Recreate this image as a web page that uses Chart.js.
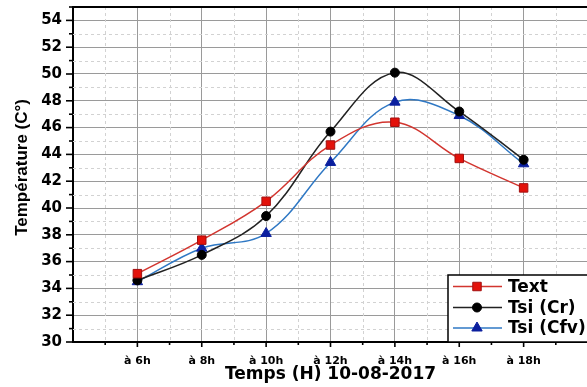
<!DOCTYPE html>
<html>
<head>
<meta charset="utf-8">
<script src="https://cdn.jsdelivr.net/npm/chart.js@4.4.1/dist/chart.umd.min.js"></script>
<style>
  html, body { margin: 0; padding: 0; background: #fff; overflow: hidden; }
  #wrap { width: 595px; height: 387px; }
</style>
</head>
<body>
<div id="wrap"><canvas id="chart" width="595" height="387"></canvas></div>
<script>
// hours on the x axis (index 0..6)
const hours = ['à 6h', 'à 8h', 'à 10h', 'à 12h', 'à 14h', 'à 16h', 'à 18h'];
const textTemp = [35.1, 37.6, 40.5, 44.7, 46.4, 43.7, 41.5];
const tsiCr = [34.6, 36.5, 39.4, 45.7, 50.1, 47.2, 43.6];
const tsiCfv = [34.5, 37.0, 38.1, 43.4, 47.9, 46.9, 43.3];

const seriesNames = ['Text', 'Tsi (Cr)', 'Tsi (Cfv)'];

const FONT = '"DejaVu Sans", sans-serif';
const toPoints = (vals) => vals.map((v, i) => ({ x: i, y: v }));

function line(ctx, x1, y1, x2, y2) {
  ctx.beginPath();
  ctx.moveTo(x1, y1);
  ctx.lineTo(x2, y2);
  ctx.stroke();
}

const decor = {
  id: 'decor',
  beforeDatasetsDraw(chart) {
    const { ctx, chartArea: a, scales: { x, y } } = chart;
    ctx.save();
    ctx.strokeStyle = '#d2d2d2';
    ctx.lineWidth = 1;
    ctx.setLineDash([3, 3]);
    y.ticks.forEach((t) => {
      if (t.value % 2 !== 0 && t.value < 55) {
        const py = Math.round(y.getPixelForValue(t.value)) + 0.5;
        line(ctx, a.left, py, a.right, py);
      }
    });
    x.ticks.forEach((t) => {
      if (!Number.isInteger(t.value)) {
        const px = Math.round(x.getPixelForValue(t.value)) + 0.5;
        line(ctx, px, a.top, px, a.bottom);
      }
    });
    ctx.restore();
  },
  afterDraw(chart) {
    const { ctx, chartArea: a, scales: { x, y } } = chart;
    ctx.save();
    ctx.strokeStyle = '#000';
    ctx.lineWidth = 1.6;
    // tick marks
    y.ticks.forEach((t) => {
      const py = y.getPixelForValue(t.value);
      const len = t.value % 2 === 0 ? 7 : 4;
      line(ctx, a.left - len, py, a.left, py);
    });
    x.ticks.forEach((t) => {
      if (t.value <= -1) return;
      const px = x.getPixelForValue(t.value);
      const len = Number.isInteger(t.value) ? 5 : 3;
      line(ctx, px, a.bottom, px, a.bottom + len);
    });
    // top frame
    ctx.lineWidth = 2;
    line(ctx, a.left - 1, a.top, a.right, a.top);

    // legend box
    const bx = 448, by = 275;
    ctx.fillStyle = '#fff';
    ctx.fillRect(bx, by, a.right - bx, a.bottom - by);
    ctx.lineWidth = 1.5;
    ctx.strokeRect(bx, by, a.right - bx + 5, a.bottom - by);

    const rows = [286.5, 307.5, 328];
    chart.data.datasets.forEach((ds, i) => {
      const ry = rows[i];
      ctx.strokeStyle = ds.borderColor;
      ctx.lineWidth = 1.5;
      line(ctx, 453, ry, 502, ry);
      ctx.fillStyle = ds.pointBackgroundColor;
      ctx.strokeStyle = ds.pointBorderColor;
      ctx.lineWidth = 1;
      Chart.helpers.drawPoint(ctx, {
        pointStyle: ds.pointStyle,
        radius: ds.pointRadius,
        rotation: 0,
        borderWidth: 1,
      }, 477, ry);
      ctx.fillStyle = '#000';
      ctx.font = 'bold 17px ' + FONT;
      ctx.textBaseline = 'middle';
      ctx.textAlign = 'left';
      ctx.fillText(ds.label, 508, ry + 1);
    });
    ctx.restore();
  },
};

const datasets = [
  {
    label: seriesNames[0],
    data: toPoints(textTemp),
    borderColor: '#d2352f',
    pointBackgroundColor: '#e3120b',
    pointBorderColor: '#a31010',
    pointStyle: 'rect',
    pointRadius: 6,
  },
  {
    label: seriesNames[1],
    data: toPoints(tsiCr),
    borderColor: '#222',
    pointBackgroundColor: '#000',
    pointBorderColor: '#000',
    pointStyle: 'circle',
    pointRadius: 4.5,
  },
  {
    label: seriesNames[2],
    data: toPoints(tsiCfv),
    borderColor: '#2f78c4',
    pointBackgroundColor: '#0b1f9e',
    pointBorderColor: '#0b1f9e',
    pointStyle: 'triangle',
    pointRadius: 6,
  },
].map((ds) => ({
  ...ds,
  borderWidth: 1.5,
  tension: 0.38,
  pointBorderWidth: 1,
  fill: false,
}));

new Chart(document.getElementById('chart'), {
  type: 'line',
  data: { datasets },
  options: {
    responsive: false,
    devicePixelRatio: 1,
    animation: false,
    layout: { padding: { top: 4, left: 0, right: 0, bottom: 0 } },
    plugins: { legend: { display: false }, tooltip: { enabled: false } },
    scales: {
      x: {
        type: 'linear',
        min: -1,
        max: 7,
        afterFit: (s) => {
          s.height = 45;
          s.paddingLeft = 0;
          s.paddingRight = 0;
        },
        border: { color: '#000', width: 2 },
        grid: {
          drawTicks: false,
          color: (c) => (Number.isInteger(c.tick.value) ? '#9a9a9a' : 'rgba(0,0,0,0)'),
          lineWidth: 1,
        },
        ticks: {
          stepSize: 0.5,
          autoSkip: false,
          maxRotation: 0,
          padding: 13,
          color: '#000',
          font: { family: FONT, size: 11, weight: 'bold' },
          callback: (v) => (Number.isInteger(v) && v >= 0 && v < hours.length ? hours[v] : ''),
        },
        title: {
          display: true,
          text: 'Temps (H) 10-08-2017',
          color: '#000',
          font: { family: FONT, size: 17, weight: 'bold' },
          padding: { top: 0, bottom: 2 },
        },
      },
      y: {
        min: 30,
        max: 55,
        afterFit: (s) => {
          s.width = 73;
          s.paddingTop = 0;
          s.paddingBottom = 0;
        },
        border: { color: '#000', width: 2 },
        grid: {
          drawTicks: false,
          color: (c) => (c.tick.value % 2 === 0 ? '#9a9a9a' : 'rgba(0,0,0,0)'),
          lineWidth: 1,
        },
        ticks: {
          stepSize: 1,
          autoSkip: false,
          padding: 11,
          color: '#000',
          font: { family: FONT, size: 15, weight: 'bold' },
          callback: (v) => (v % 2 === 0 ? String(v) : ''),
        },
        title: {
          display: true,
          text: '   Température (C°)',
          color: '#000',
          font: { family: '"Liberation Sans", Arial, sans-serif', size: 17, weight: 'bold' },
          padding: { top: 12, bottom: 0 },
        },
      },
    },
  },
  plugins: [decor],
});
</script>
</body>
</html>
